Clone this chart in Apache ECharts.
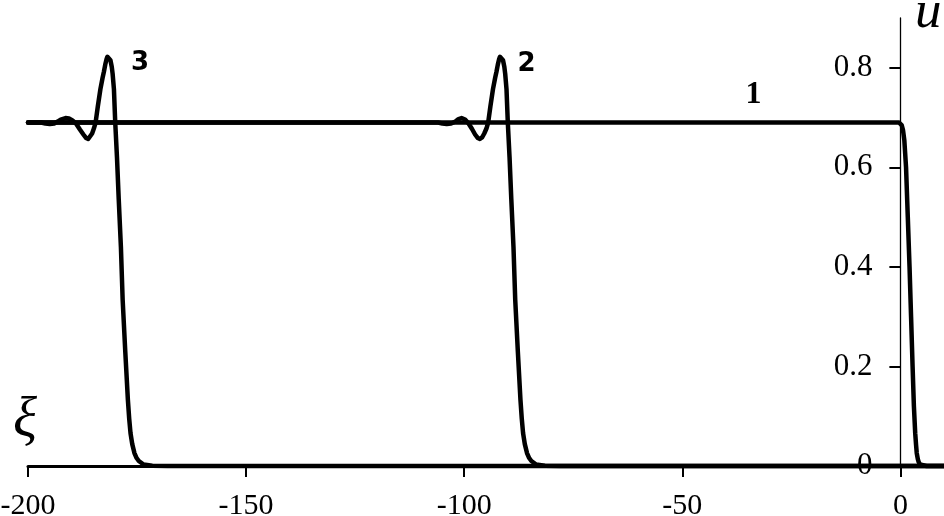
<!DOCTYPE html>
<html>
<head>
<meta charset="utf-8">
<script src="https://cdn.jsdelivr.net/npm/echarts@6/dist/echarts.min.js"></script>
<style>
  html, body { margin: 0; padding: 0; background: #fff; }
  #chart-container { width: 944px; height: 516px; }
</style>
</head>
<body>
<div id="chart-container"></div>
<script>
// wave profiles u(xi)
const xi1 = [-200, -100, -1, -0.3, 0, 0.3, 0.6, 0.9, 1.3, 1.7, 2.1, 2.45, 2.8, 3.1, 3.4, 3.6, 3.75, 4.0, 4.2, 4.5, 4.8, 6, 10];
const u1  = [0.69, 0.69, 0.69, 0.69, 0.689, 0.685, 0.675, 0.655, 0.60, 0.50, 0.40, 0.30, 0.20, 0.12, 0.066, 0.042, 0.026, 0.014, 0.008, 0.003, 0.001, 0, 0];

const xi2 = [-200, -120, -106, -105, -104, -103, -102, -101.3, -100.6, -99.8, -99, -98.2, -97.5, -96.9, -96.4, -95.9, -95.4, -94.9, -94.5,
             -94.0, -93.4, -92.9, -92.6, -92.3, -92.0, -91.8, -91.6, -91.4, -91.1, -90.8, -90.6, -90.3, -90.0,
             -89.6, -89.2, -88.7, -88.3, -87.7, -87.1, -86.8, -86.5, -86.1, -85.6, -85.1, -84.6, -83.5, -81.5, -78, 10];
const u2  = [0.69, 0.69, 0.69, 0.688, 0.687, 0.688, 0.692, 0.697, 0.699, 0.696, 0.688, 0.677, 0.666, 0.659, 0.657, 0.660, 0.668, 0.678, 0.69,
             0.722, 0.757, 0.780, 0.792, 0.806, 0.817, 0.822, 0.825, 0.823, 0.815, 0.802, 0.788, 0.757, 0.69,
             0.62, 0.536, 0.44, 0.334, 0.23, 0.133, 0.095, 0.066, 0.044, 0.026, 0.016, 0.01, 0.003, 0.0005, 0, 0];

const xi3 = [-200, -197, -196, -195, -194, -193.2, -192.5, -191.4, -190.6, -189.8, -189, -188.1, -187.3, -186.7, -186.2, -185.8, -185.3, -184.9, -184.5,
             -184.0, -183.4, -182.9, -182.6, -182.3, -182.0, -181.8, -181.6, -181.4, -181.1, -180.8, -180.6, -180.3, -180.0,
             -179.6, -179.2, -178.7, -178.3, -177.7, -177.1, -176.8, -176.5, -176.1, -175.6, -175.1, -174.6, -173.5, -171.5, -168, 10];
const u3  = [0.69, 0.69, 0.688, 0.687, 0.688, 0.692, 0.696, 0.699, 0.698, 0.694, 0.688, 0.676, 0.666, 0.659, 0.657, 0.660, 0.668, 0.678, 0.69,
             0.722, 0.757, 0.780, 0.792, 0.806, 0.817, 0.822, 0.825, 0.823, 0.815, 0.802, 0.788, 0.757, 0.69,
             0.62, 0.536, 0.44, 0.334, 0.23, 0.133, 0.095, 0.066, 0.044, 0.026, 0.016, 0.01, 0.003, 0.0005, 0, 0];

const xTicks = [-200, -150, -100, -50, 0];
const uTicks = [0, 0.2, 0.4, 0.6, 0.8];

const curveNames = ['1', '2', '3'];
const curveLabelXi = [-33.7, -85.7, -174.3];
const curveLabelU = [0.745, 0.808, 0.81];

const zip = (xs, ys) => xs.map((x, i) => [x, ys[i]]);
const curves = [zip(xi1, u1), zip(xi2, u2), zip(xi3, u3)];

const serif = '"Liberation Serif", "DejaVu Serif", serif';

// the u axis sits at xi = 0, i.e. 10 units left of the right edge
const gridLeft = 28, gridRight = 0, xMin = -200, xMax = 10;
const plotW = 944 - gridLeft - gridRight;
const uAxisOffset = -(xMax / (xMax - xMin)) * plotW;

const myChart = echarts.init(document.getElementById('chart-container'));

const series = curves.map((d, i) => ({
    name: curveNames[i],
    type: 'line',
    data: d,
    symbol: 'none',
    clip: false,
    lineStyle: { color: '#000', width: 4.5, join: 'round', cap: 'round' },
    markPoint: {
        symbol: 'circle',
        symbolSize: 0,
        silent: true,
        data: [{ name: curveNames[i], coord: [curveLabelXi[i], curveLabelU[i]] }],
        label: {
            show: true,
            formatter: '{b}',
            position: 'inside',
            color: '#000',
            fontWeight: 'bold',
            fontFamily: i === 0 ? serif : '"DejaVu Sans", sans-serif',
            fontSize: i === 0 ? 32 : 26
        }
    }
}));

const option = {
    animation: false,
    backgroundColor: '#fff',
    grid: { left: gridLeft, right: gridRight, top: 18, bottom: 50, outerBoundsMode: 'none' },
    xAxis: {
        type: 'value',
        min: xMin,
        max: xMax,
        interval: 50,
        splitLine: { show: false },
        axisLine: { show: true, lineStyle: { color: '#000', width: 3 } },
        axisTick: { show: true, customValues: xTicks, length: 11, lineStyle: { color: '#000', width: 2 } },
        axisLabel: { customValues: xTicks, color: '#000', fontFamily: serif, fontSize: 30, margin: 25 }
    },
    yAxis: {
        type: 'value',
        position: 'right',
        offset: uAxisOffset,
        min: 0,
        max: 0.9,
        splitLine: { show: false },
        axisLine: { show: true, onZero: false, lineStyle: { color: '#000', width: 1.3 } },
        axisTick: { show: true, inside: true, customValues: uTicks.slice(1), length: 11, lineStyle: { color: '#000', width: 2 } },
        axisLabel: { show: true, inside: true, customValues: uTicks, color: '#000', fontFamily: serif, fontSize: 31, margin: 28 }
    },
    graphic: [
        { type: 'text', left: 915, top: -13, z: 10, style: { text: 'u', font: 'italic 53px ' + serif, fill: '#000' } },
        { type: 'text', left: 13, top: 393, z: 10, style: { text: 'ξ', font: 'italic 56px ' + serif, fill: '#000' } }
    ],
    series: series
};

myChart.setOption(option);
</script>
</body>
</html>
